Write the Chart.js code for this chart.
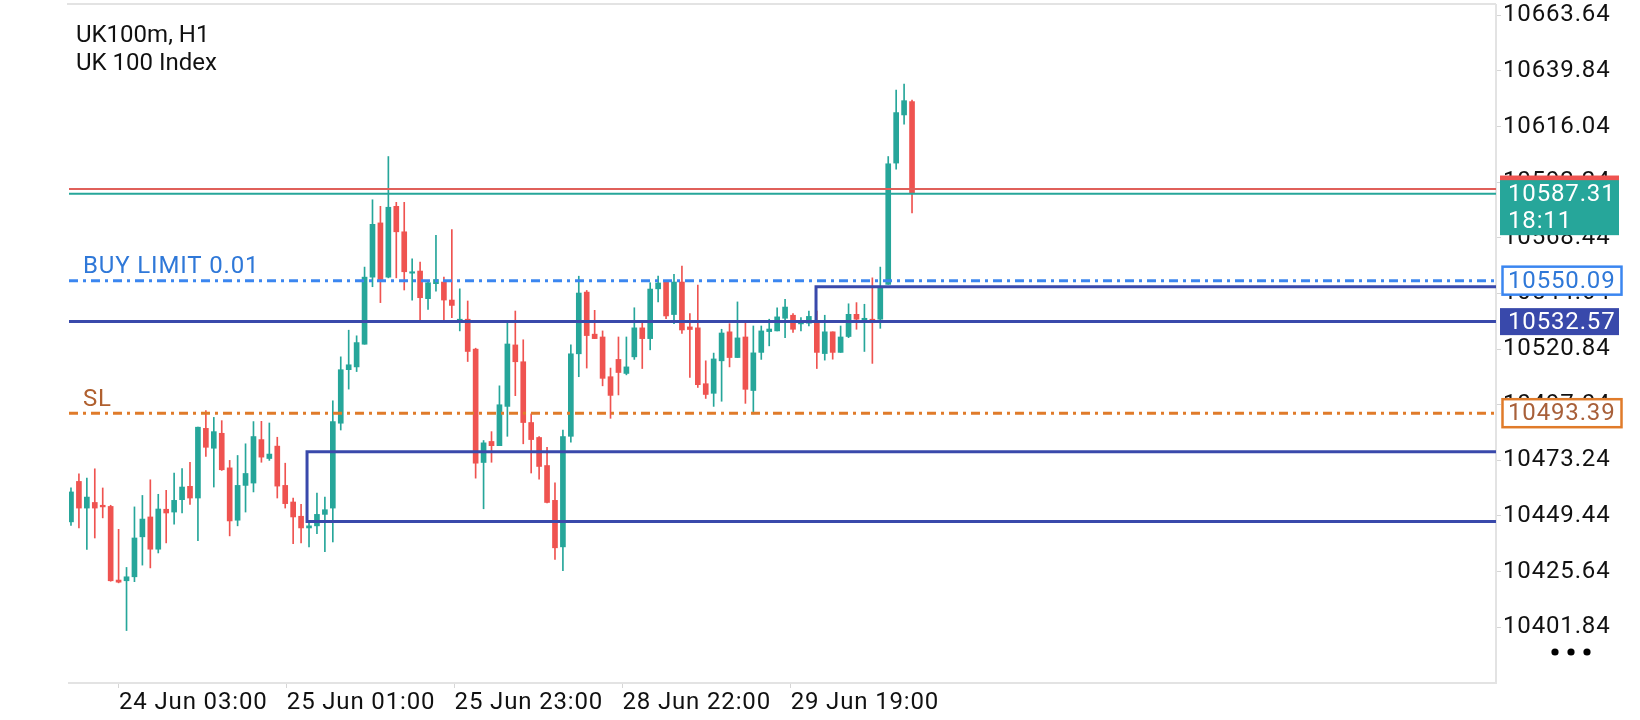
<!DOCTYPE html>
<html><head><meta charset="utf-8">
<script src="https://cdn.jsdelivr.net/npm/chart.js@4.4.1/dist/chart.umd.min.js"></script>
<style>html,body{margin:0;padding:0;background:#fff;}canvas{display:block;}</style>
</head><body>
<canvas id="c" width="1640" height="720"></canvas>
<script>
// ---- DATA (UK100m, H1 candles) ----
const opens  = [10446.9,10464.2,10452.8,10455.2,10454.0,10453.5,10422.0,10421.7,10423.4,10440.5,
                10449.0,10435.2,10452.3,10451.1,10456.4,10462.1,10457.1,10486.9,10478.4,10484.8,
                10470.0,10447.6,10462.5,10463.5,10482.1,10474.0,10479.3,10462.5,10455.4,10449.3,
                10444.3,10445.2,10450.1,10452.8,10489.1,10512.0,10513.2,10522.9,10551.6,10574.8,
                10551.6,10581.9,10571.0,10553.3,10554.2,10542.4,10548.8,10549.5,10541.8,10533.0,
                10533.6,10520.8,10472.3,10481.3,10479.5,10496.3,10522.6,10515.4,10489.4,10483.0,
                10471.0,10456.1,10436.2,10483.5,10518.8,10545.2,10527.2,10526.0,10509.0,10516.4,
                10510.4,10517.5,10529.9,10525.3,10546.6,10550.2,10535.6,10549.5,10530.3,10529.9,
                10506.0,10501.9,10515.8,10528.2,10517.2,10526.0,10503.1,10519.4,10528.3,10528.6,
                10534.0,10535.3,10531.6,10531.9,10533.1,10518.9,10528.2,10519.4,10526.2,10535.7,
                10533.4,10533.6,10533.6,10548.5,10600.4,10621.0,10626.7];
const highs  = [10461.5,10467.5,10465.6,10469.6,10461.4,10454.0,10443.7,10427.4,10453.3,10458.2,
                10464.9,10458.7,10460.4,10467.8,10469.7,10472.4,10487.4,10494.5,10491.6,10490.2,
                10473.2,10475.3,10480.3,10489.8,10489.9,10489.2,10483.1,10472.0,10457.1,10454.4,
                10447.6,10459.2,10457.5,10498.7,10517.5,10528.9,10526.5,10555.9,10584.7,10581.9,
                10603.2,10583.6,10583.6,10559.4,10558.0,10549.9,10569.5,10551.6,10571.9,10546.6,
                10541.4,10521.2,10481.7,10485.5,10505.1,10532.9,10537.1,10524.8,10493.1,10483.4,
                10478.8,10463.6,10486.2,10522.6,10552.0,10545.9,10537.4,10528.6,10512.7,10526.0,
                10526.0,10538.5,10532.9,10549.2,10552.0,10550.2,10552.8,10556.3,10536.0,10548.2,
                10515.8,10519.1,10529.3,10531.7,10541.0,10532.9,10530.7,10530.7,10533.6,10538.5,
                10542.1,10536.0,10534.3,10537.1,10537.1,10535.3,10528.2,10530.7,10540.2,10540.7,
                10540.0,10551.3,10555.9,10603.2,10631.6,10634.2,10627.4];
const lows   = [10445.4,10444.3,10435.1,10440.0,10448.6,10421.5,10420.8,10400.4,10421.3,10428.4,
                10427.2,10433.6,10437.9,10445.9,10450.7,10454.4,10438.8,10474.9,10461.8,10468.9,
                10440.9,10445.2,10451.1,10459.7,10472.4,10473.2,10457.1,10452.8,10437.6,10437.9,
                10436.2,10441.9,10434.1,10438.3,10486.2,10503.7,10511.2,10522.9,10547.5,10540.7,
                10551.3,10551.3,10546.1,10541.8,10533.1,10537.8,10545.6,10532.1,10534.3,10528.6,
                10515.5,10465.6,10452.5,10472.4,10479.5,10483.5,10500.9,10480.3,10467.8,10465.2,
                10455.0,10430.8,10426.0,10481.0,10509.0,10512.7,10525.3,10505.1,10491.2,10501.2,
                10509.8,10516.4,10512.5,10520.5,10541.0,10533.8,10531.7,10527.5,10508.7,10504.4,
                10499.7,10496.3,10498.5,10513.2,10517.2,10497.6,10493.1,10516.4,10522.2,10528.6,
                10525.7,10527.9,10528.6,10530.7,10512.5,10516.1,10516.5,10519.4,10525.7,10529.3,
                10519.8,10514.7,10529.7,10548.5,10597.8,10617.0,10579.1];
const closes = [10459.7,10452.8,10457.5,10452.8,10453.3,10421.7,10421.1,10423.4,10440.0,10448.1,
                10435.2,10452.4,10450.7,10456.1,10461.8,10457.1,10487.4,10478.8,10485.5,10469.2,
                10447.3,10462.5,10467.6,10483.4,10474.6,10475.9,10462.2,10454.7,10449.0,10444.3,
                10445.2,10450.1,10452.1,10489.8,10512.0,10514.1,10523.6,10551.6,10574.2,10550.6,
                10581.5,10571.0,10553.9,10553.9,10542.8,10549.2,10550.6,10541.8,10539.5,10533.6,
                10519.8,10472.0,10480.7,10479.5,10497.0,10523.0,10515.4,10489.4,10482.1,10470.6,
                10455.2,10435.8,10483.4,10518.8,10544.8,10526.6,10525.3,10508.3,10501.0,10510.8,
                10513.2,10529.9,10525.3,10546.5,10549.1,10535.0,10549.5,10529.0,10529.2,10505.6,
                10501.4,10516.6,10527.7,10517.2,10525.6,10503.6,10519.2,10528.6,10529.4,10534.6,
                10538.8,10529.3,10532.1,10534.8,10519.4,10528.2,10519.4,10526.0,10535.7,10533.6,
                10534.0,10532.1,10547.4,10600.1,10622.0,10627.1,10587.31];

const xTickLabels = ["24 Jun 03:00", "25 Jun 01:00", "25 Jun 23:00", "28 Jun 22:00", "29 Jun 19:00"];
const xTickIndex  = [6.05, 27.2, 48.35, 69.5, 90.7];
const yTickLabels = ["10401.84","10425.64","10449.44","10473.24","10497.04","10520.84",
                     "10544.64","10568.44","10592.24","10616.04","10639.84","10663.64"];

const askPrice = 10589.30;
const bidPrice = 10587.31;
const buyLimit = 10550.09;
const stopLoss = 10493.39;
const levelLine = 10532.57;
const rect1 = [29.75, 10476.9, 10447.1];   // [start bar, top, bottom]
const rect2 = [93.9, 10547.5, 10532.57];
const serverTime = "18:11";
const titleLines = ["UK100m, H1", "UK 100 Index"];
const buyLimitText = "BUY LIMIT 0.01";
const slText = "SL";

// ---- view range ----
const X_MIN = -0.25, X_MAX = 179.6;
const Y_MIN = 10377.96, Y_MAX = 10668.03;

const UP = '#26a69a', DOWN = '#ef5350', INDIGO = '#3949ab';
const SPACING = '0.85px';
const candleCols = opens.map((o, i) => closes[i] >= o ? UP : DOWN);

function hline(v, color, width, dash) {
  return { type: 'line', data: [{x: X_MIN, y: v}, {x: X_MAX, y: v}],
           borderColor: color, borderWidth: width, borderDash: dash || [], pointRadius: 0,
           fill: false, tension: 0, order: 0 };
}

const annot = {
  id: 'annot',
  beforeDraw(chart) {
    const {ctx, chartArea: a} = chart;
    ctx.letterSpacing = SPACING;
    ctx.save();
    ctx.strokeStyle = '#e3e3e3'; ctx.lineWidth = 2;
    ctx.beginPath(); ctx.moveTo(a.left - 2, a.top - 1); ctx.lineTo(a.right, a.top - 1); ctx.stroke();
    ctx.restore();
  },
  afterDraw(chart) {
    const {ctx, scales: {y}} = chart;
    ctx.save();
    ctx.textBaseline = 'alphabetic';
    ctx.letterSpacing = '0px';
    ctx.font = '24px Roboto'; ctx.fillStyle = '#111';
    ctx.fillText(titleLines[0], 76, 42);
    ctx.fillText(titleLines[1], 76, 70);
    ctx.letterSpacing = SPACING;
    const blY = y.getPixelForValue(buyLimit), slY = y.getPixelForValue(stopLoss);
    ctx.fillStyle = '#2f78d8'; ctx.fillText(buyLimitText, 83, blY - 8);
    ctx.fillStyle = '#b0602f'; ctx.fillText(slText, 83, slY - 7);

    const bx = 1500, bw = 119;
    ctx.textBaseline = 'middle';
    // ask box (mostly hidden)
    const askY = y.getPixelForValue(askPrice);
    ctx.fillStyle = DOWN; ctx.fillRect(bx, askY - 13.5, bw, 27);
    // bid box
    const bidY = y.getPixelForValue(bidPrice);
    ctx.fillStyle = UP; ctx.fillRect(bx, bidY - 13.5, bw, 55);
    ctx.fillStyle = '#fff';
    ctx.fillText(bidPrice.toFixed(2), 1508, bidY + 1.5);
    ctx.fillText(serverTime, 1508, bidY + 28.5);
    // buy limit box
    ctx.fillStyle = '#fff'; ctx.fillRect(bx + 2, blY - 14, bw, 28);
    ctx.strokeStyle = '#3b86f0'; ctx.lineWidth = 2.5; ctx.strokeRect(bx + 2.5, blY - 14, bw, 28);
    ctx.fillStyle = '#2f78d8'; ctx.fillText(buyLimit.toFixed(2), 1508, blY + 1);
    // level box
    const lvY = y.getPixelForValue(levelLine);
    ctx.fillStyle = INDIGO; ctx.fillRect(bx, lvY - 13.5, bw, 27);
    ctx.fillStyle = '#fff'; ctx.fillText(levelLine.toFixed(2), 1508, lvY + 1);
    // SL box
    ctx.fillStyle = '#fff'; ctx.fillRect(bx + 2, slY - 14, bw, 28);
    ctx.strokeStyle = '#e07b2a'; ctx.lineWidth = 2.5; ctx.strokeRect(bx + 2.5, slY - 14, bw, 28);
    ctx.fillStyle = '#a8603a'; ctx.fillText(stopLoss.toFixed(2), 1508, slY + 1);
    // menu dots
    ctx.fillStyle = '#000';
    [1555, 1571, 1587].forEach(cx => { ctx.beginPath(); ctx.arc(cx, 652, 3.6, 0, Math.PI * 2); ctx.fill(); });
    ctx.restore();
  }
};

new Chart(document.getElementById('c'), {
  type: 'bar',
  data: {
    datasets: [
      hline(askPrice, '#e0605a', 2),
      hline(bidPrice, UP, 2),
      hline(buyLimit, '#3b86f0', 3, [9, 5, 3, 5]),
      hline(stopLoss, '#e07b2a', 3, [9, 5, 3, 5]),
      hline(levelLine, INDIGO, 3),
      { type: 'line', data: [{x: X_MAX, y: rect1[1]}, {x: rect1[0], y: rect1[1]}, {x: rect1[0], y: rect1[2]}, {x: X_MAX, y: rect1[2]}],
        borderColor: INDIGO, borderWidth: 3, pointRadius: 0, fill: false, tension: 0, order: 0 },
      { type: 'line', data: [{x: X_MAX, y: rect2[1]}, {x: rect2[0], y: rect2[1]}, {x: rect2[0], y: rect2[2]}],
        borderColor: INDIGO, borderWidth: 3, pointRadius: 0, fill: false, tension: 0, order: 0 },
      { type: 'bar', data: opens.map((o, i) => ({x: i, y: [o, closes[i]]})),
        backgroundColor: candleCols, barThickness: 5, grouped: false, minBarLength: 1, borderWidth: 0, order: 5 },
      { type: 'bar', data: highs.map((h, i) => ({x: i, y: [lows[i], h]})),
        backgroundColor: candleCols, barThickness: 1, grouped: false, borderWidth: 0, order: 6 }
    ]
  },
  options: {
    responsive: false,
    animation: false,
    layout: { padding: { left: 69, top: 3, right: 0, bottom: 0 } },
    plugins: { legend: { display: false }, tooltip: { enabled: false } },
    scales: {
      x: {
        type: 'linear', min: X_MIN, max: X_MAX, offset: false,
        grid: { offset: false, drawOnChartArea: false, drawTicks: true, tickLength: 5, color: '#d6d6d6' },
        border: { display: true, color: '#e3e3e3', width: 2 },
        ticks: { autoSkip: false, maxRotation: 0, align: 'start', padding: 1, color: '#111',
                 font: { family: 'Roboto', size: 24, lineHeight: 1.2 },
                 callback: (v, i) => xTickLabels[i] },
        afterBuildTicks: s => { s.ticks = xTickIndex.map(v => ({value: v})); },
        afterFit: s => { s.height = 37; }
      },
      y: {
        position: 'right', min: Y_MIN, max: Y_MAX,
        grid: { offset: false, drawOnChartArea: false, drawTicks: true, tickLength: 5, color: '#d6d6d6' },
        border: { display: true, color: '#e3e3e3', width: 2 },
        ticks: { padding: 2, color: '#111', font: { family: 'Roboto', size: 24, lineHeight: 0.25 },
                 callback: (v, i) => yTickLabels[i] },
        afterBuildTicks: s => { s.ticks = yTickLabels.map(t => ({value: parseFloat(t)})); },
        afterFit: s => { s.width = 144; }
      }
    }
  },
  plugins: [annot]
});
</script>
</body></html>
